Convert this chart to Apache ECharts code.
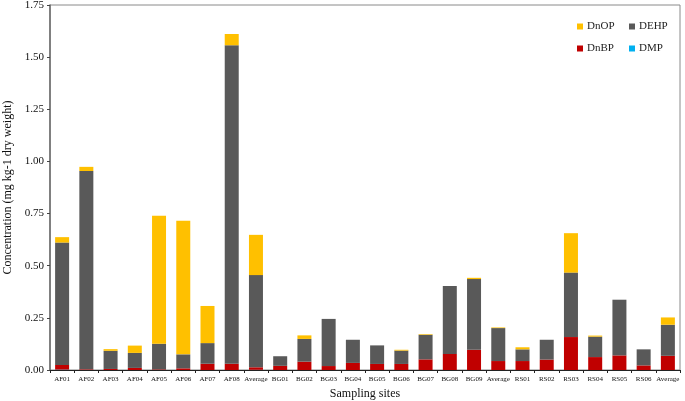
<!DOCTYPE html>
<html>
<head>
<meta charset="utf-8">
<script src="https://cdn.jsdelivr.net/npm/echarts@6/dist/echarts.min.js"></script>
<style>html,body{margin:0;padding:0;background:#fff;}#c{width:685px;height:401px;}</style>
</head>
<body>
<div id="c"></div>
<script>
var categories = ['AF01','AF02','AF03','AF04','AF05','AF06','AF07','AF08','Average',
  'BG01','BG02','BG03','BG04','BG05','BG06','BG07','BG08','BG09','Average',
  'RS01','RS02','RS03','RS04','RS05','RS06','Average'];
var DMP  = [0.002,0,0,0,0,0,0,0,0.001, 0,0,0,0,0,0,0,0,0,0, 0,0,0,0,0,0,0];
var DnBP = [0.022,0.003,0.005,0.010,0.003,0.008,0.030,0.030,0.012,
  0.020,0.040,0.019,0.034,0.029,0.029,0.051,0.077,0.097,0.043,
  0.043,0.050,0.158,0.062,0.070,0.022,0.068];
var DEHP = [0.587,0.951,0.087,0.072,0.123,0.067,0.099,1.527,0.442,
  0.046,0.109,0.226,0.111,0.089,0.064,0.118,0.326,0.339,0.158,
  0.056,0.095,0.309,0.098,0.267,0.077,0.149];
var DnOP = [0.026,0.020,0.008,0.035,0.614,0.641,0.178,0.054,0.193,
  0,0.017,0,0,0,0.004,0.003,0,0.006,0.003,
  0.010,0,0.189,0.005,0,0,0.035];
var yTicks = [0,0.25,0.5,0.75,1.0,1.25,1.5,1.75];

var font = '"Liberation Serif","Times New Roman",serif';
var chart = echarts.init(document.getElementById('c'));
function lg(name, left, top){
  return {data:[name], left:left, top:top, itemWidth:6, itemHeight:6, itemGap:0,
    icon:'rect', padding:0, textStyle:{fontFamily:font, fontSize:11, color:'#222', padding:[0,0,0,-1]}};
}
function s(name, data, color){
  return {name:name, type:'bar', stack:'t', data:data, barWidth:14,
    itemStyle:{color:color}, emphasis:{disabled:true}};
}
chart.setOption({
  animation:false,
  textStyle:{fontFamily:font},
  grid:{left:50, right:5, top:5, bottom:31, show:true, borderColor:'#8a8a8a', borderWidth:1,
    containLabel:false, outerBoundsMode:'none'},
  legend:[lg('DnOP',577,21), lg('DEHP',629,21), lg('DnBP',577,43), lg('DMP',629,43)],
  xAxis:{type:'category', data:categories,
    name:'Sampling sites', nameLocation:'middle', nameGap:17,
    nameTextStyle:{fontFamily:font, fontSize:12, color:'#111'},
    axisLine:{lineStyle:{color:'#222', width:1}},
    axisTick:{show:true, length:3, lineStyle:{color:'#222'}},
    axisLabel:{interval:0, fontFamily:font, fontSize:7, color:'#111', margin:6}},
  yAxis:{type:'value', min:0, max:1.75, interval:0.25,
    name:'Concentration (mg kg-1 dry weight)', nameLocation:'middle', nameGap:31,
    nameTextStyle:{fontFamily:font, fontSize:12, color:'#111'},
    axisLine:{show:true, lineStyle:{color:'#6a6a6a', width:1.5}},
    axisTick:{show:true, length:3, lineStyle:{color:'#444'}},
    splitLine:{show:false},
    axisLabel:{fontFamily:font, fontSize:11, color:'#111', margin:6,
      formatter:function(v){return v.toFixed(2);}}},
  series:[
    s('DMP', DMP, '#00B0F0'),
    s('DnBP', DnBP, '#C00000'),
    s('DEHP', DEHP, '#595959'),
    s('DnOP', DnOP, '#FFC000')
  ]
});
</script>
</body>
</html>
